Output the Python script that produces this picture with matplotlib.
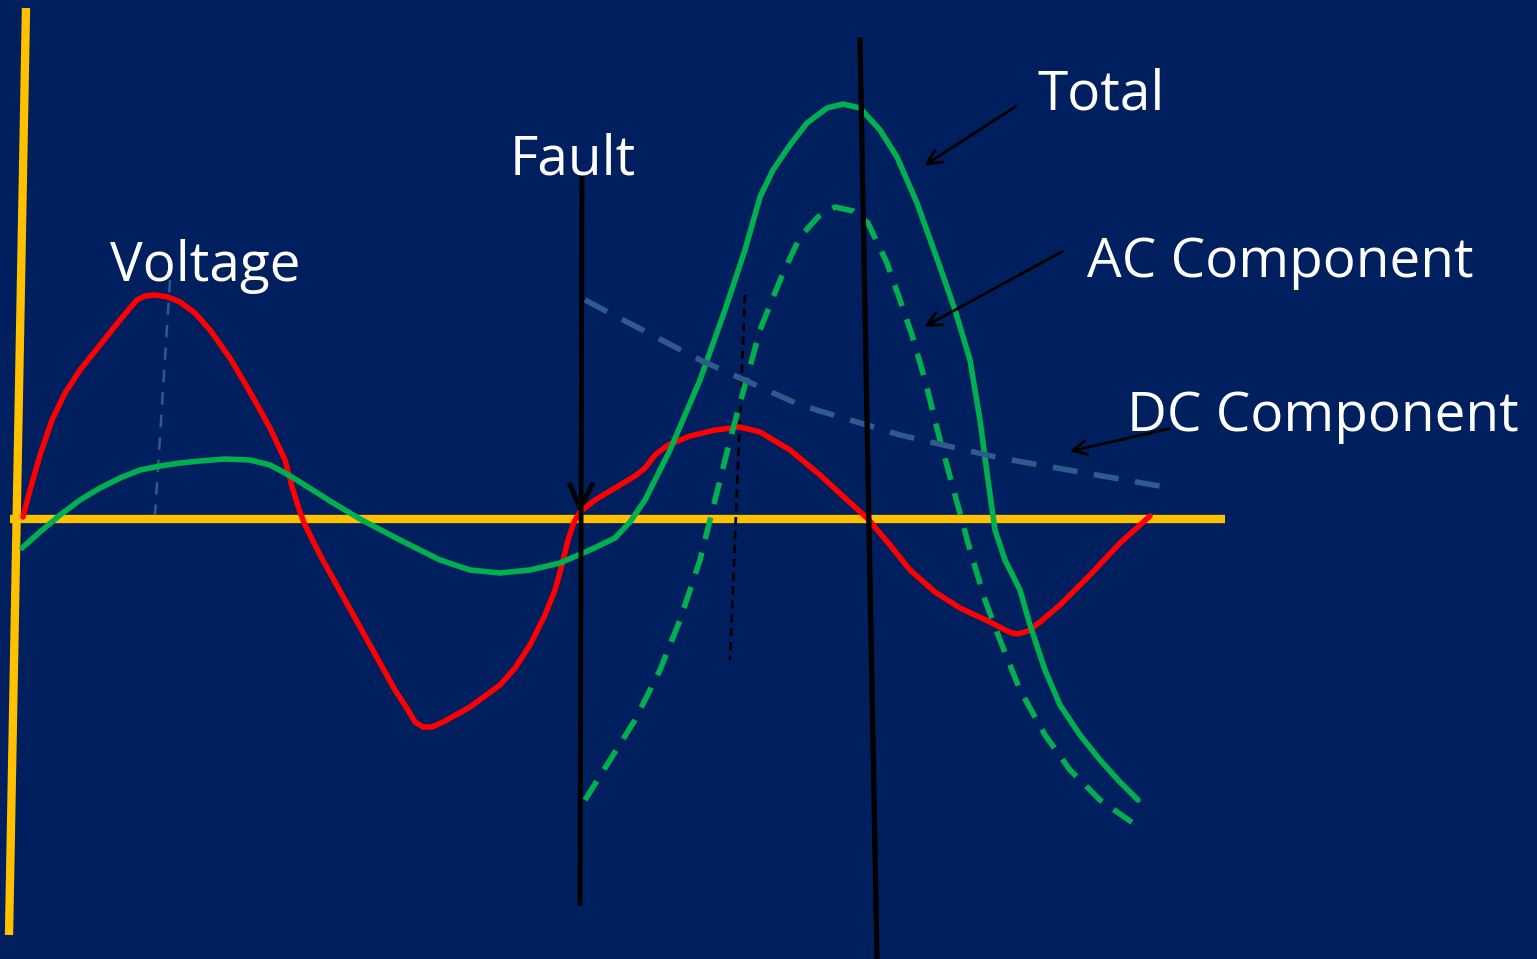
import numpy as np
import matplotlib.pyplot as plt

# everything is measured in picture pixels (x right, y down)
W, H = 1537, 959
BG = "#001F5F"
YELLOW = "#FFC000"
RED = "#FF0000"
GREEN = "#00B050"
DCBLUE = "#2E5A8E"

# voltage (red)
volt_x = [23, 30, 40, 52, 65, 80, 100, 120, 130, 137, 145, 155, 168, 180, 195, 210, 230, 250,
          270, 285, 293, 300, 305, 320, 345, 370, 395, 408, 415, 423, 432, 445, 470, 500, 515,
          530, 545, 555, 562, 568, 574, 580, 595, 615, 635, 645, 655, 668, 690, 715, 740, 760,
          790, 820, 845, 868, 890, 910, 935, 960, 990, 1005, 1012, 1018, 1028, 1040, 1060,
          1090, 1120, 1150]
volt_y = [517, 490, 455, 420, 393, 370, 345, 320, 308, 300, 296, 295, 297, 302, 313, 330, 358,
          392, 428, 460, 490, 512, 525, 555, 600, 645, 690, 710, 722, 727, 727, 721, 707, 685,
          668, 645, 615, 590, 565, 540, 522, 512, 500, 488, 476, 468, 455, 445, 436, 430, 427,
          432, 450, 475, 498, 519, 545, 570, 592, 608, 622, 630, 633, 634, 631, 622, 605,
          575, 543, 516]

# total current (green solid)
total_x = [22, 40, 60, 80, 100, 120, 140, 160, 180, 200, 225, 250, 270, 285, 300, 330, 360, 400,
           440, 470, 500, 530, 560, 590, 615, 630, 645, 670, 700, 725, 745, 760, 773, 790, 807,
           827, 843, 860, 880, 897, 917, 940, 955, 970, 980, 988, 995, 1005, 1020, 1030, 1045,
           1060, 1080, 1100, 1120, 1138]
total_y = [548, 532, 515, 500, 488, 478, 470, 466, 463, 461, 459, 460, 465, 473, 482, 501, 519,
           540, 560, 570, 573, 570, 563, 550, 538, 522, 500, 450, 380, 310, 250, 197, 170, 145,
           123, 108, 104, 108, 130, 157, 203, 267, 310, 360, 420, 480, 530, 560, 590, 625, 670,
           705, 735, 760, 782, 800]

# AC component (green dashed)
ac_x = [585, 610, 635, 660, 680, 700, 715, 730, 745, 760, 772, 783, 800, 818, 835, 853, 868,
        887, 900, 912, 925, 940, 955, 970, 985, 1000, 1020, 1045, 1070, 1100, 1140]
ac_y = [800, 760, 720, 670, 620, 560, 500, 440, 385, 330, 300, 273, 237, 217, 207, 211, 223,
        263, 300, 335, 380, 440, 495, 550, 600, 640, 690, 735, 770, 800, 828]

# DC component (blue dashed)
dc_x = [585, 700, 800, 900, 1000, 1165]
dc_y = [300, 360, 405, 435, 458, 487]

labels = ["Voltage", "Fault", "Total", "AC Component", "DC Component"]
label_x = [110, 510, 1038, 1087, 1127]
label_y = [267, 160, 95, 263, 417]

fig = plt.figure(figsize=(W / 100, H / 100), dpi=100, facecolor=BG)
ax = fig.add_axes([0, 0, 1, 1])
ax.set_facecolor(BG)
ax.set_xlim(0, W)
ax.set_ylim(H, 0)
ax.axis("off")

# axes drawn by hand
ax.plot([26, 9], [8, 935], color=YELLOW, lw=6, solid_capstyle="butt")
ax.plot([10, 1225], [519, 519], color=YELLOW, lw=6, solid_capstyle="butt")

# thin helper lines
ax.plot([170, 155], [280, 515], color=DCBLUE, lw=1.8, dashes=(5, 4))
ax.plot([745, 730], [295, 660], color="black", lw=2, dashes=(3, 2))

ax.plot(volt_x, volt_y, color=RED, lw=4, solid_joinstyle="round", solid_capstyle="round")
ax.plot(total_x, total_y, color=GREEN, lw=4, solid_joinstyle="round", solid_capstyle="round")
ax.plot(ac_x, ac_y, color=GREEN, lw=4, dashes=(4, 2.5))
ax.plot(dc_x, dc_y, color=DCBLUE, lw=4, dashes=(4.5, 3))

# fault line and the peak line
ax.plot([582, 580], [175, 903], color="black", lw=3.5)
ax.plot([570, 580, 592], [485, 508, 485], color="black", lw=3.5)
ax.plot([860, 877], [40, 959], color="black", lw=3.8)

# labels
for s, x, y in zip(labels, label_x, label_y):
    ax.text(x, y, s, color="white", fontsize=39.5, family="Open Sans",
            ha="left", va="center")

# annotation arrows
arrows = [((1018, 105), (922, 167)), ((1065, 250), (922, 328)), ((1172, 428), (1067, 452))]
for (x0, y0), (x1, y1) in arrows:
    ax.annotate("", xy=(x1, y1), xytext=(x0, y0),
                arrowprops=dict(arrowstyle="->", color="black", lw=2, mutation_scale=25))

fig.savefig("out.png", dpi=100, facecolor=BG)
